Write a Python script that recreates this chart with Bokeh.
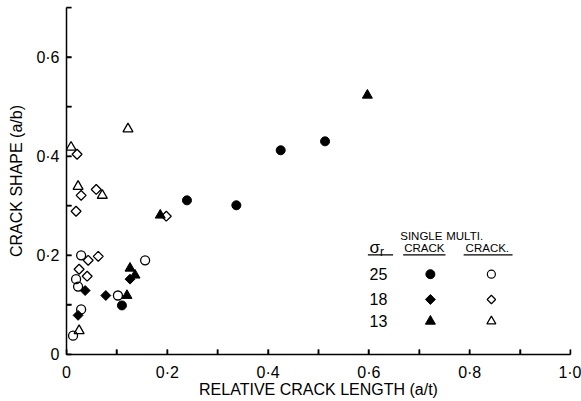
import math
from bokeh.plotting import figure
from bokeh.models import Range1d, FixedTicker
from bokeh.core.properties import value
from bokeh.embed import file_html
from bokeh.resources import INLINE

# ---- data (relative crack length a/t, crack shape a/b) ----
single25_x = [0.110, 0.239, 0.337, 0.425, 0.513]
single25_y = [0.099, 0.311, 0.301, 0.412, 0.430]
single18_x = [0.023, 0.037, 0.078, 0.126]
single18_y = [0.079, 0.129, 0.119, 0.152]
single13_x = [0.120, 0.126, 0.136, 0.186, 0.597]
single13_y = [0.119, 0.174, 0.160, 0.281, 0.523]
multi25_x = [0.013, 0.029, 0.019, 0.023, 0.029, 0.102, 0.156]
multi25_y = [0.038, 0.091, 0.152, 0.137, 0.200, 0.119, 0.190]
multi18_x = [0.043, 0.063, 0.025, 0.041, 0.019, 0.029, 0.059, 0.021, 0.198]
multi18_y = [0.190, 0.198, 0.172, 0.158, 0.289, 0.321, 0.333, 0.404, 0.279]
multi13_x = [0.025, 0.023, 0.071, 0.009, 0.122]
multi13_y = [0.048, 0.339, 0.321, 0.418, 0.455]

sigma_levels = ["25", "18", "13"]
x_ticks = [0.0, 0.1, 0.2, 0.3, 0.4, 0.5, 0.6, 0.7, 0.8, 0.9, 1.0]
x_tick_labels = {0.0: "0", 0.2: "0·2", 0.4: "0·4", 0.6: "0·6", 0.8: "0·8", 1.0: "1·0"}
y_ticks = [0.0, 0.1, 0.2, 0.3, 0.4, 0.5, 0.6, 0.7]
y_tick_labels = {0.0: "0", 0.2: "0·2", 0.4: "0·4", 0.6: "0·6"}

FONT = "Liberation Sans"
X0, X1, Y0, Y1 = 0.0, 1.0, 0.0, 0.7

p = figure(width=581, height=401, output_backend="svg", toolbar_location=None,
           x_range=Range1d(X0, X1), y_range=Range1d(Y0, Y1),
           min_border_left=66, min_border_right=11, min_border_top=7, min_border_bottom=47)
p.outline_line_color = None
p.grid.visible = False
p.background_fill_color = "white"
p.border_fill_color = "white"

for ax, ticks, labels in ((p.xaxis[0], x_ticks, x_tick_labels), (p.yaxis[0], y_ticks, y_tick_labels)):
    ax.ticker = FixedTicker(ticks=ticks)
    ax.major_label_overrides = {t: labels.get(t, "") for t in ticks}
    ax.major_tick_in = 5
    ax.major_tick_out = 0
    ax.major_tick_line_width = 1.5
    ax.major_tick_line_color = "black"
    ax.minor_tick_line_color = None
    ax.axis_line_width = 1.5
    ax.axis_line_color = "black"
    ax.major_label_text_font = FONT
    ax.major_label_text_font_size = "16px"
    ax.major_label_text_color = "black"
    ax.axis_label_text_font = FONT
    ax.axis_label_text_font_size = "16px"
    ax.axis_label_text_font_style = "normal"
    ax.axis_label_text_color = "black"
p.xaxis.axis_label = "RELATIVE CRACK LENGTH (a/t)"
p.yaxis.axis_label = "CRACK SHAPE (a/b)"
p.xaxis.major_label_standoff = 9
p.xaxis.axis_label_standoff = -3
p.yaxis.major_label_standoff = 7
p.yaxis.axis_label_standoff = 8

# inward tick marks drawn from the tick arrays (reinforce the axis ticks)
tick_dy = 5 / 495
tick_dx = 5 / 503.5
p.segment(x0=x_ticks, y0=[Y0] * len(x_ticks), x1=x_ticks, y1=[Y0 + tick_dy] * len(x_ticks),
          line_color="black", line_width=1.5)
p.segment(x0=[X0] * len(y_ticks), y0=y_ticks, x1=[X0 + tick_dx] * len(y_ticks), y1=y_ticks,
          line_color="black", line_width=1.5)

# data marks
lw = 1.3
D = math.pi / 4
p.scatter(single25_x, single25_y, marker="circle", size=9, fill_color="black", line_color="black")
p.scatter(single18_x, single18_y, marker="square", angle=D, size=7, fill_color="black", line_color="black")
p.scatter(single13_x, single13_y, marker="triangle", size=10, fill_color="black", line_color="black")
p.scatter(multi25_x, multi25_y, marker="circle", size=9, fill_color=None, line_color="black", line_width=lw)
p.scatter(multi18_x, multi18_y, marker="square", angle=D, size=7, fill_color=None, line_color="black", line_width=lw)
p.scatter(multi13_x, multi13_y, marker="triangle", size=10, fill_color=None, line_color="black", line_width=lw)

# legend (table-like key)
col_num, col_single, col_multi = 0.619, 0.722, 0.843
row_y = [0.162, 0.111, 0.067]
p.text(x=[col_num] * 3, y=row_y, text=sigma_levels, text_align="center", text_baseline="middle",
       text_font=value(FONT), text_font_size="16px", text_color="black")
p.scatter([col_single] * 3, row_y, marker=["circle", "square", "triangle"], angle=[0, D, 0],
          size=[9, 7, 10], fill_color="black", line_color="black")
p.scatter([col_multi] * 3, row_y, marker=["circle", "square", "triangle"], angle=[0, D, 0],
          size=[8, 6, 9], fill_color=None, line_color="black", line_width=1.2)
p.text(x=[0.704, 0.790, 0.710, 0.835], y=[0.240, 0.240, 0.214, 0.214],
       text=["SINGLE", "MULTI.", "CRACK", "CRACK."], text_align="center", text_baseline="middle",
       text_font=value(FONT), text_font_size="11.5px", text_color="black")
p.text(x=[0.601], y=[0.216], text=["σ"], text_align="left", text_baseline="middle",
       text_font=value(FONT), text_font_size="17px", text_color="black")
p.text(x=[0.622], y=[0.207], text=["r"], text_align="left", text_baseline="middle",
       text_font=value(FONT), text_font_size="12px", text_color="black")
p.segment(x0=[0.598, 0.668, 0.788], y0=[0.201] * 3, x1=[0.648, 0.752, 0.885], y1=[0.201] * 3,
          line_color="black", line_width=1.2)

open("out.html", "w").write(file_html(p, INLINE))
